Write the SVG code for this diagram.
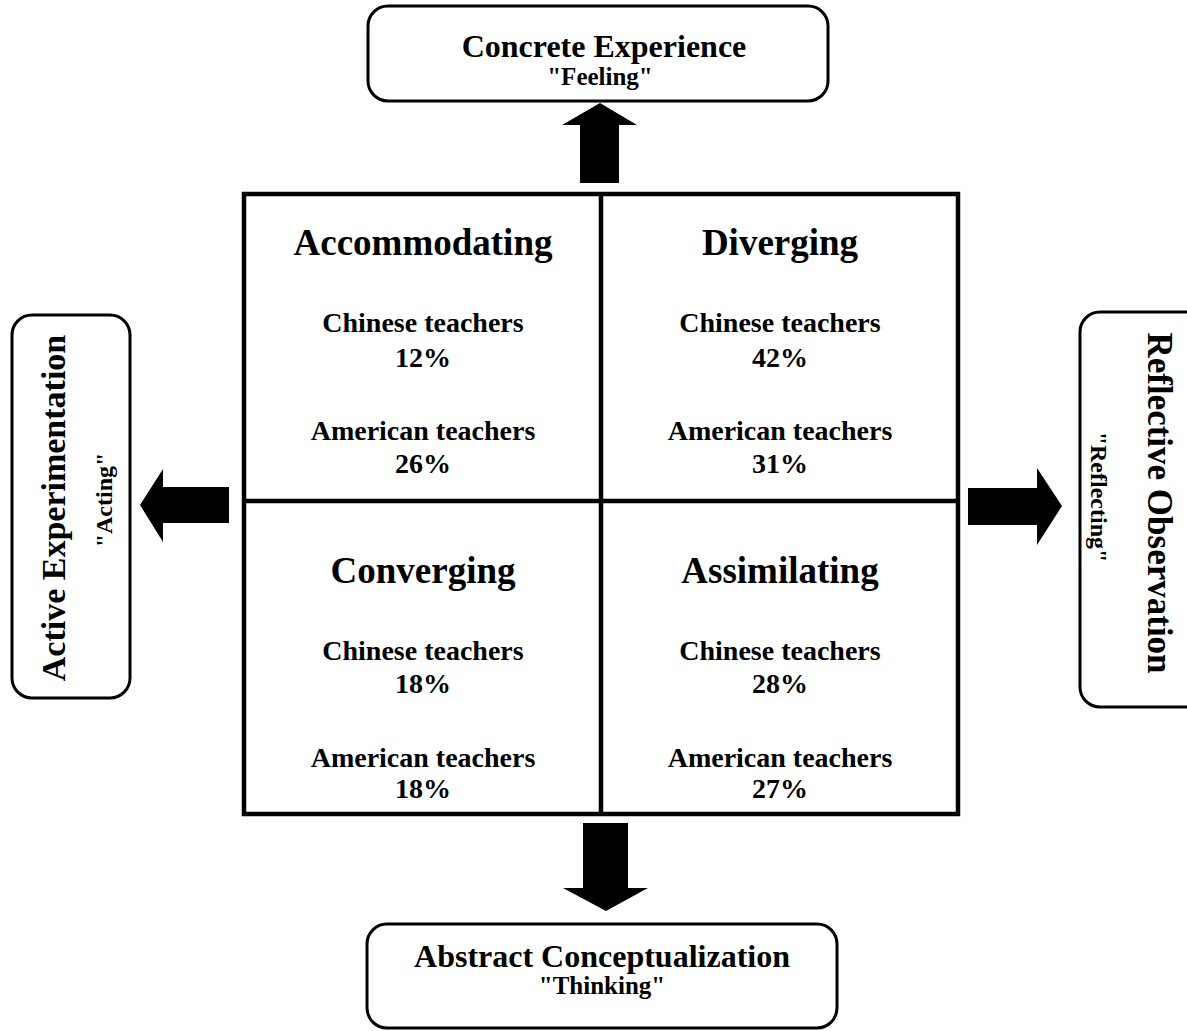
<svg xmlns="http://www.w3.org/2000/svg" width="1187" height="1031" viewBox="0 0 1187 1031">
<style>
text{font-family:"Liberation Serif","Times New Roman",serif;font-weight:bold;fill:#000;text-anchor:middle}
.box{fill:#fff;stroke:#000;stroke-width:3}
.grid{fill:none;stroke:#000;stroke-width:4.5}
.arrow{fill:#000;stroke:none}
.t1{font-size:32px}
.t2{font-size:25px}
.h{font-size:37px}
.s{font-size:28px}
</style>
<rect width="1187" height="1031" fill="#fff"/>
<g id="connectors">
<polygon class="arrow" points="580,183 580,125 562,125 600,103 637,125 619,125 619,183"/>
<polygon class="arrow" points="583,823 628,823 628,888 648,888 606,911 563,888 583,888"/>
<polygon class="arrow" points="229,487 163,487 163,469 140,505 163,542 163,523 229,523"/>
<polygon class="arrow" points="968,488 1037,488 1037,468 1062,506 1037,545 1037,525 968,525"/>
</g>
<g id="concrete">
<rect class="box" x="368" y="6" width="460" height="95" rx="20"/>
<text class="t1" x="604" y="57">Concrete Experience</text>
<text class="t2" x="600" y="85">"Feeling"</text>
</g>
<g id="abstract">
<rect class="box" x="367" y="924" width="470" height="104" rx="20"/>
<text class="t1" x="602" y="967">Abstract Conceptualization</text>
<text class="t2" x="602" y="994">"Thinking"</text>
</g>
<g id="active">
<rect class="box" x="12" y="315" width="118" height="383" rx="20"/>
<text class="t1" transform="translate(65,508) rotate(-90)" style="font-size:34px">Active Experimentation</text>
<text class="t2" transform="translate(112,500) rotate(-90)" style="font-size:24px">"Acting"</text>
</g>
<g id="reflective">
<rect class="box" x="1080" y="312" width="130" height="395" rx="20"/>
<text class="t1" transform="translate(1148,503) rotate(90)" style="font-size:35px">Reflective Observation</text>
<text class="t2" transform="translate(1091,497) rotate(90)" style="font-size:24px">"Reflecting"</text>
</g>
<g id="grid">
<rect class="grid" x="244" y="194" width="714" height="620"/>
<line class="grid" x1="601" y1="194" x2="601" y2="814"/>
<line class="grid" x1="244" y1="501" x2="958" y2="501"/>
</g>
<g id="accommodating">
<text class="h" x="423" y="255">Accommodating</text>
<text class="s" x="423" y="332">Chinese teachers</text>
<text class="s" x="423" y="367">12%</text>
<text class="s" x="423" y="440">American teachers</text>
<text class="s" x="423" y="473">26%</text>
</g>
<g id="diverging">
<text class="h" x="780" y="255">Diverging</text>
<text class="s" x="780" y="332">Chinese teachers</text>
<text class="s" x="780" y="367">42%</text>
<text class="s" x="780" y="440">American teachers</text>
<text class="s" x="780" y="473">31%</text>
</g>
<g id="converging">
<text class="h" x="423" y="583">Converging</text>
<text class="s" x="423" y="660">Chinese teachers</text>
<text class="s" x="423" y="693">18%</text>
<text class="s" x="423" y="767">American teachers</text>
<text class="s" x="423" y="798">18%</text>
</g>
<g id="assimilating">
<text class="h" x="780" y="583">Assimilating</text>
<text class="s" x="780" y="660">Chinese teachers</text>
<text class="s" x="780" y="693">28%</text>
<text class="s" x="780" y="767">American teachers</text>
<text class="s" x="780" y="798">27%</text>
</g>
</svg>
